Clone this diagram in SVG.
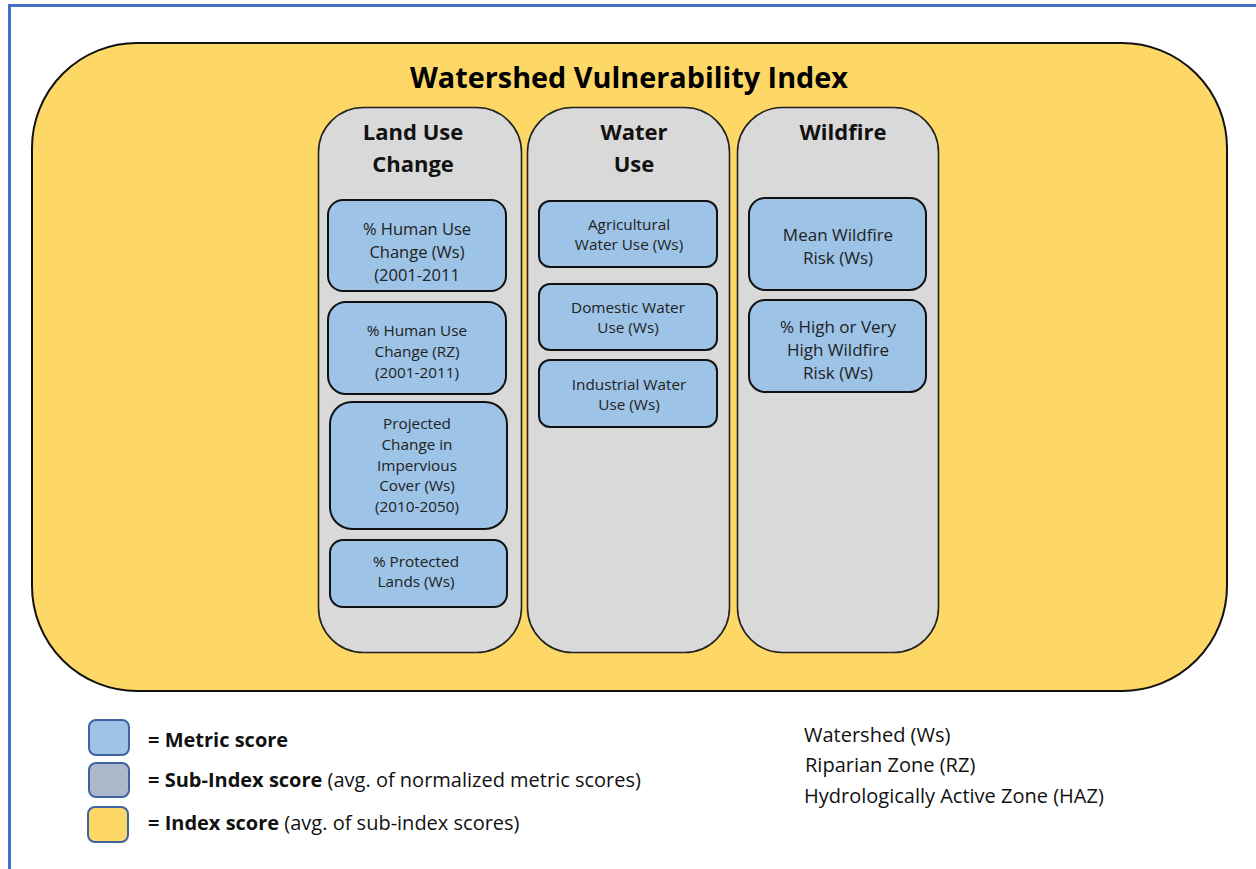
<svg xmlns="http://www.w3.org/2000/svg" width="1256" height="869" viewBox="0 0 1256 869">
<style>
text{font-family:"Open Sans",Lato,"Liberation Sans",sans-serif;}
.title{font-size:28.8px;font-weight:bold;fill:#000;text-anchor:middle}
.hdr{font-size:22px;font-weight:bold;fill:#111;text-anchor:middle}
.m{font-size:16.5px;fill:#222;text-anchor:middle}
.w{font-size:17px;fill:#222;text-anchor:middle}
.s{font-size:15.3px;fill:#222;text-anchor:middle}
.idx{fill:#fdd866;stroke:#111;stroke-width:2}
.sub{fill:#d9d9d9;stroke:#222;stroke-width:1.6}
.met{fill:#9dc3e6;stroke:#111;stroke-width:2}
.lg{font-size:20px;fill:#111}
.lgb{font-weight:bold}
.key{stroke:#3e63a0;stroke-width:2}
</style>
<rect width="1256" height="869" fill="#fff"/>
<line x1="8" y1="5.5" x2="1256" y2="5.5" stroke="#4472c4" stroke-width="3"/>
<line x1="9.5" y1="4" x2="9.5" y2="869" stroke="#4472c4" stroke-width="3"/>

<g id="index">
<rect class="idx" x="32" y="43" width="1195" height="648" rx="105" ry="105"/>
<text class="title" x="629" y="88">Watershed Vulnerability Index</text>
</g>

<g id="land-use-change">
<rect class="sub" x="318.5" y="107.5" width="203" height="545" rx="45" ry="45"/>
<text class="hdr" x="413" y="140">Land Use</text>
<text class="hdr" x="413" y="172">Change</text>
</g>
<g id="water-use">
<rect class="sub" x="527.5" y="107.5" width="202" height="545" rx="45" ry="45"/>
<text class="hdr" x="634" y="140">Water</text>
<text class="hdr" x="634" y="172">Use</text>
</g>
<g id="wildfire">
<rect class="sub" x="737.5" y="107.5" width="201" height="545" rx="45" ry="45"/>
<text class="hdr" x="843" y="140">Wildfire</text>
</g>

<g id="human-use-ws">
<rect class="met" x="328" y="200" width="178" height="91" rx="15"/>
<text class="m" x="417" y="235">% Human Use</text>
<text class="m" x="417" y="258">Change (Ws)</text>
<text class="m" x="417" y="281">(2001-2011</text>
</g>
<g id="human-use-rz">
<rect class="met" x="328" y="302" width="178" height="92" rx="18"/>
<text class="s" x="417" y="336">% Human Use</text>
<text class="s" x="417" y="357">Change (RZ)</text>
<text class="s" x="417" y="378">(2001-2011)</text>
</g>
<g id="impervious">
<rect class="met" x="330" y="402" width="177" height="127" rx="22"/>
<text class="s" x="417" y="429">Projected</text>
<text class="s" x="417" y="450">Change in</text>
<text class="s" x="417" y="471">Impervious</text>
<text class="s" x="417" y="491">Cover (Ws)</text>
<text class="s" x="417" y="512">(2010-2050)</text>
</g>
<g id="protected-lands">
<rect class="met" x="330" y="540" width="177" height="67" rx="13"/>
<text class="s" x="416" y="567">% Protected</text>
<text class="s" x="416" y="587">Lands (Ws)</text>
</g>

<g id="agricultural">
<rect class="met" x="539" y="201" width="178" height="66" rx="11"/>
<text class="s" x="629" y="230">Agricultural</text>
<text class="s" x="629" y="250">Water Use (Ws)</text>
</g>
<g id="domestic">
<rect class="met" x="539" y="284" width="178" height="66" rx="11"/>
<text class="s" x="628" y="313">Domestic Water</text>
<text class="s" x="628" y="333">Use (Ws)</text>
</g>
<g id="industrial">
<rect class="met" x="539" y="360" width="178" height="67" rx="11"/>
<text class="s" x="629" y="390">Industrial Water</text>
<text class="s" x="629" y="410">Use (Ws)</text>
</g>

<g id="mean-wildfire">
<rect class="met" x="749" y="198" width="177" height="92" rx="16"/>
<text class="w" x="838" y="241">Mean Wildfire</text>
<text class="w" x="838" y="264">Risk (Ws)</text>
</g>
<g id="high-wildfire">
<rect class="met" x="749" y="300" width="177" height="92" rx="16"/>
<text class="w" x="838" y="333">% High or Very</text>
<text class="w" x="838" y="356">High Wildfire</text>
<text class="w" x="838" y="379">Risk (Ws)</text>
</g>

<g id="legend">
<rect class="key" x="89" y="720" width="40" height="35" rx="7" fill="#9dc3e6"/>
<rect class="key" x="89" y="763" width="40" height="34" rx="7" fill="#adb9ca"/>
<rect class="key" x="88" y="807" width="40" height="35" rx="7" fill="#fdd866"/>
<text class="lg lgb" x="148" y="747">= Metric score</text>
<text class="lg" x="148" y="787"><tspan class="lgb">= Sub-Index score</tspan> (avg. of normalized metric scores)</text>
<text class="lg" x="148" y="830"><tspan class="lgb">= Index score</tspan> (avg. of sub-index scores)</text>
<text class="lg" x="804" y="742">Watershed (Ws)</text>
<text class="lg" x="805" y="772">Riparian Zone (RZ)</text>
<text class="lg" x="804" y="803">Hydrologically Active Zone (HAZ)</text>
</g>
</svg>
